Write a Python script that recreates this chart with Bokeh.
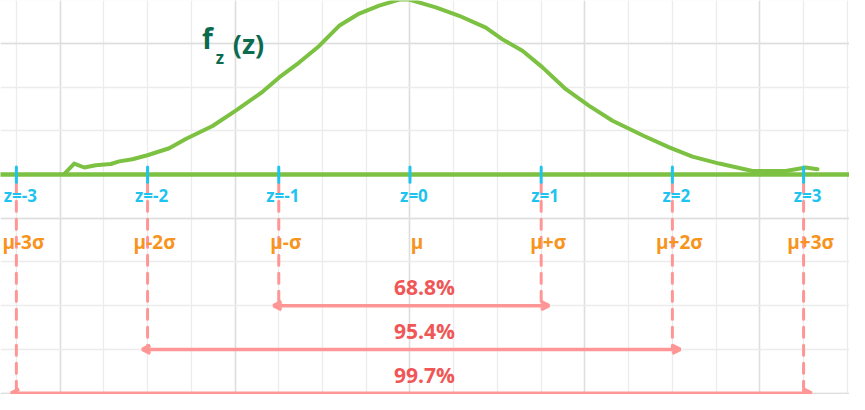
from bokeh.plotting import figure
from bokeh.models import FixedTicker, Arrow, OpenHead, ColumnDataSource, Range1d
from bokeh.core.properties import value
from bokeh.embed import file_html
from bokeh.resources import INLINE

# ---- data ----
z_ticks = [-3, -2, -1, 0, 1, 2, 3]
z_labels = ["z=-3", "z=-2", "z=-1", "z=0", "z=1", "z=2", "z=3"]
mu_labels = ["μ-3σ", "μ-2σ", "μ-σ", "μ", "μ+σ", "μ+2σ", "μ+3σ"]
coverage_k = [1, 2, 3]
coverage_labels = ["68.8%", "95.4%", "99.7%"]

# hand-drawn density curve
curve_z = [-2.636, -2.559, -2.483, -2.395, -2.280, -2.216, -2.115, -2.001, -1.835,
           -1.709, -1.505, -1.328, -1.124, -0.997, -0.845, -0.692, -0.540, -0.387,
           -0.235, -0.082, -0.006, 0.197, 0.375, 0.578, 0.705, 0.857, 1.010, 1.188,
           1.366, 1.544, 1.784, 1.976, 2.153, 2.357, 2.611, 2.864, 3.017, 3.106]
curve_f = [0.001, 0.025, 0.016, 0.021, 0.024, 0.030, 0.035, 0.044, 0.060,
           0.081, 0.111, 0.146, 0.189, 0.222, 0.256, 0.294, 0.340, 0.368,
           0.386, 0.400, 0.400, 0.382, 0.363, 0.336, 0.309, 0.283, 0.245, 0.195,
           0.157, 0.123, 0.088, 0.062, 0.041, 0.025, 0.008, 0.008, 0.016, 0.012]

# ---- styling ----
GREEN = "#7cc142"
CYAN = "#1ec3ef"
ORANGE = "#f7941d"
SALMON = "#ff9696"
RED = "#f05656"
DARKGREEN = "#0b6b4e"
FONT = value("Open Sans")

p = figure(width=849, height=394, output_backend="svg", toolbar_location=None,
           x_range=Range1d(-3.121, 3.350), y_range=Range1d(-0.5031, 0.3979),
           min_border=0, outline_line_color=None, background_fill_color="white",
           border_fill_color="white")
p.axis.visible = False

# notebook grid
xminor = [k / 3 for k in range(-10, 11)]
xmajor = [k * 4 / 3 for k in range(-2, 3)]
yminor = [k / 10 for k in range(-6, 5)]
ymajor = [0.3, -0.1, -0.5]
p.xgrid.ticker = FixedTicker(ticks=xmajor, minor_ticks=xminor)
p.ygrid.ticker = FixedTicker(ticks=ymajor, minor_ticks=yminor)
for g in (p.xgrid, p.ygrid):
    g.grid_line_color = "#dedede"
    g.grid_line_width = 1.5
    g.minor_grid_line_color = "#ececec"
    g.minor_grid_line_width = 1.3

# horizontal axis line
p.segment(x0=-3.2, y0=0, x1=3.5, y1=0, line_color=GREEN, line_width=4.5)

# density curve
p.line(curve_z, curve_f, line_color=GREEN, line_width=4, line_join="round", line_cap="round")

# dashed guides from each tick down to its arrow
guide_z = [z for z in z_ticks if z != 0]
guide_bottom = [-0.1 * (2 + abs(z)) for z in guide_z]
p.segment(x0=guide_z, y0=[-0.02] * len(guide_z), x1=guide_z, y1=guide_bottom,
          line_color=SALMON, line_width=3, line_dash="10 8", line_cap="round")

# cyan ticks
p.segment(x0=z_ticks, y0=[0.017] * 7, x1=z_ticks, y1=[-0.018] * 7,
          line_color=CYAN, line_width=3, line_cap="round")

src = ColumnDataSource(dict(z=z_ticks, zl=z_labels, ml=mu_labels))
p.text(x="z", y=-0.048, text="zl", source=src, text_color=CYAN, text_font=FONT,
       text_font_size="17px", text_font_style="bold", text_align="center",
       text_baseline="middle", x_offset=4)
p.text(x="z", y=-0.155, text="ml", source=src, text_color=ORANGE, text_font=FONT,
       text_font_size="19px", text_font_style="bold", text_align="center",
       text_baseline="middle", x_offset=7)

# coverage arrows
for k, lab in zip(coverage_k, coverage_labels):
    yk = -0.1 * (2 + k)
    p.add_layout(Arrow(x_start=-k - 0.04, y_start=yk, x_end=k + 0.06, y_end=yk,
                       line_color=SALMON, line_width=3.5,
                       start=OpenHead(size=8, line_color=SALMON, line_width=3.5),
                       end=OpenHead(size=8, line_color=SALMON, line_width=3.5)))
    p.text(x=[0.11], y=[yk + 0.042], text=[lab], text_color=RED, text_font=FONT,
           text_font_size="21px", text_font_style="bold", text_align="center",
           text_baseline="middle")

# f_z(z) label
p.text(x=[-1.543], y=[0.313], text=["f"], text_color=DARKGREEN, text_font=FONT,
       text_font_size="28px", text_font_style="bold", text_align="center",
       text_baseline="middle")
p.text(x=[-1.448], y=[0.268], text=["z"], text_color=DARKGREEN, text_font=FONT,
       text_font_size="17px", text_font_style="bold", text_align="center",
       text_baseline="middle")
p.text(x=[-1.231], y=[0.300], text=["(z)"], text_color=DARKGREEN, text_font=FONT,
       text_font_size="27px", text_font_style="bold", text_align="center",
       text_baseline="middle")

open("out.html", "w").write(file_html(p, INLINE))
